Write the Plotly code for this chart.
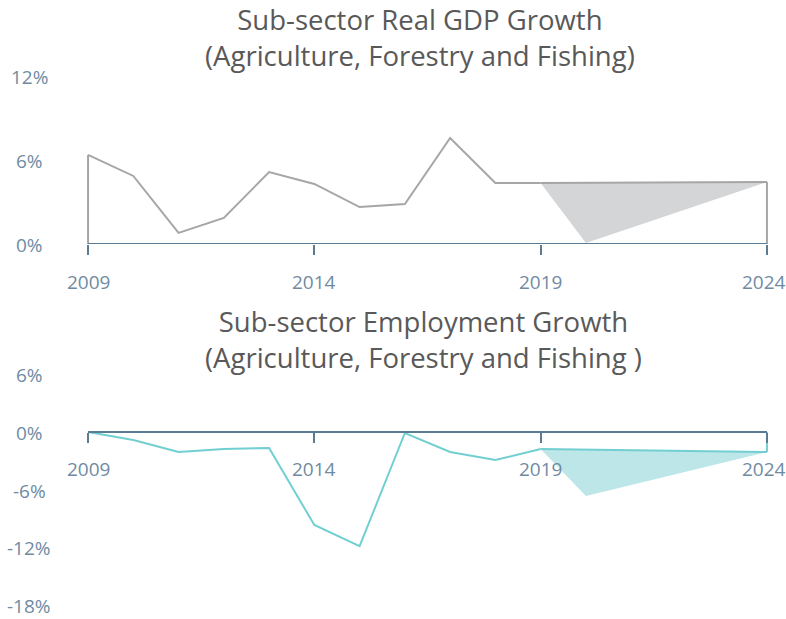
import plotly.graph_objects as go

# ---------------- data ----------------
years = [2009, 2010, 2011, 2012, 2013, 2014, 2015, 2016, 2017, 2018, 2019]
gdp_growth = [6.36, 4.86, 0.79, 1.86, 5.14, 4.29, 2.64, 2.86, 7.57, 4.36, 4.36]
gdp_fc_upper_years = [2019, 2024]
gdp_fc_upper = [4.36, 4.43]
gdp_fc_lower_years = [2019, 2020, 2024]
gdp_fc_lower = [4.36, 0.07, 4.43]

emp_growth = [0.0, -0.83, -2.08, -1.77, -1.67, -9.69, -11.9, -0.1, -2.08, -2.92, -1.77]
emp_fc_upper_years = [2019, 2024]
emp_fc_upper = [-1.77, -2.08]
emp_fc_lower_years = [2019, 2020, 2024]
emp_fc_lower = [-1.77, -6.67, -2.08]

x_ticks = [2009, 2014, 2019, 2024]
gdp_yticks = [0, 6, 12]
emp_yticks = [6, 0, -6, -12, -18]

title_gdp = "Sub-sector Real GDP Growth<br>(Agriculture, Forestry and Fishing)"
title_emp = "Sub-sector Employment Growth<br>(Agriculture, Forestry and Fishing )"

# ---------------- style ----------------
W, H = 786, 619
ML, MR = 79, 10
GRAY_LINE = "#a6a6a8"
GRAY_FILL = "#d4d5d7"
TEAL_LINE = "#72cfd1"
TEAL_FILL = "#bde6e8"
AXIS = "#5b7b93"
TICK_TXT = "#6f8ba3"
TITLE_TXT = "#595959"
FONT = "Open Sans"

def frac(py):
    return 1 - py / H

fig = go.Figure()

def add_series(xa, ya, yrs, vals, up_x, up_y, lo_x, lo_y, lc, fc):
    fig.add_trace(go.Scatter(x=lo_x, y=lo_y, mode="lines", line=dict(width=0, color=fc),
                             xaxis=xa, yaxis=ya, hoverinfo="skip", showlegend=False))
    fig.add_trace(go.Scatter(x=up_x, y=up_y, mode="lines", line=dict(width=2, color=lc),
                             fill="tonexty", fillcolor=fc,
                             xaxis=xa, yaxis=ya, showlegend=False))
    fig.add_trace(go.Scatter(x=yrs, y=vals, mode="lines", line=dict(width=2, color=lc),
                             xaxis=xa, yaxis=ya, showlegend=False))
    fig.add_trace(go.Scatter(x=[yrs[0], yrs[0]], y=[0, vals[0]], mode="lines",
                             line=dict(width=2, color=lc), xaxis=xa, yaxis=ya, showlegend=False))
    fig.add_trace(go.Scatter(x=[up_x[-1], up_x[-1]], y=[0, up_y[-1]], mode="lines",
                             line=dict(width=2, color=lc), xaxis=xa, yaxis=ya, showlegend=False))

add_series("x", "y", years, gdp_growth, gdp_fc_upper_years, gdp_fc_upper,
           gdp_fc_lower_years, gdp_fc_lower, GRAY_LINE, GRAY_FILL)
add_series("x2", "y2", years, emp_growth, emp_fc_upper_years, emp_fc_upper,
           emp_fc_lower_years, emp_fc_lower, TEAL_LINE, TEAL_FILL)

xaxis_common = dict(
    range=[2008.8, 2024.2], tickvals=x_ticks, showticklabels=False,
    showgrid=False, zeroline=False, showline=False,
    ticks="outside", ticklen=10, tickwidth=2, tickcolor=AXIS,
)
yaxis_common = dict(showgrid=False, zeroline=False, showline=False, showticklabels=False, ticks="")

fig.update_layout(
    width=W, height=H,
    margin=dict(l=ML, r=MR, t=0, b=0, autoexpand=False),
    paper_bgcolor="white", plot_bgcolor="white",
    showlegend=False,
    xaxis=dict(**xaxis_common, anchor="y"),
    yaxis=dict(**yaxis_common, range=[0, 12], domain=[frac(244), frac(76)]),
    xaxis2=dict(**xaxis_common, anchor="free", position=frac(432)),
    yaxis2=dict(**yaxis_common, range=[-18, 6], domain=[frac(604.8), frac(374.4)]),
)

# axis baselines spanning the first to last tick at value 0
for xr, yr in (("x", "y"), ("x2", "y2")):
    fig.add_shape(type="line", xref=xr, yref=yr, x0=x_ticks[0], x1=x_ticks[-1], y0=0, y1=0,
                  line=dict(color=AXIS, width=2), layer="above")

tick_font = dict(family=FONT, size=19, color=TICK_TXT)
plot_w = W - ML - MR
lab_x = (29 - ML) / plot_w
annotations = []
for v in gdp_yticks:
    annotations.append(dict(x=lab_x, xref="paper", y=v, yref="y", text=f"{v}%", showarrow=False,
                            xanchor="center", yanchor="middle", yshift=-1, font=tick_font))
for v in emp_yticks:
    annotations.append(dict(x=lab_x, xref="paper", y=v, yref="y2", text=f"{v}%", showarrow=False,
                            xanchor="center", yanchor="middle", yshift=-1, font=tick_font))
# x tick labels
for xr, yr, ys in (("x", "y", -38), ("x2", "y2", -37)):
    for i, t in enumerate(x_ticks):
        annotations.append(dict(x=t, xref=xr, y=0, yref=yr, text=str(t), showarrow=False,
                                xanchor="center", yanchor="middle", yshift=ys,
                                xshift=-3 if i == len(x_ticks) - 1 else 0, font=tick_font))
annotations.append(dict(x=(420 - ML) / plot_w, xref="paper", y=frac(38), yref="paper", text=title_gdp,
                        showarrow=False, xanchor="center", yanchor="middle",
                        font=dict(family=FONT, size=27.5, color=TITLE_TXT)))
annotations.append(dict(x=(423 - ML) / plot_w, xref="paper", y=frac(340), yref="paper", text=title_emp,
                        showarrow=False, xanchor="center", yanchor="middle",
                        font=dict(family=FONT, size=27.5, color=TITLE_TXT)))
fig.update_layout(annotations=annotations)

fig.write_html("out.html")
